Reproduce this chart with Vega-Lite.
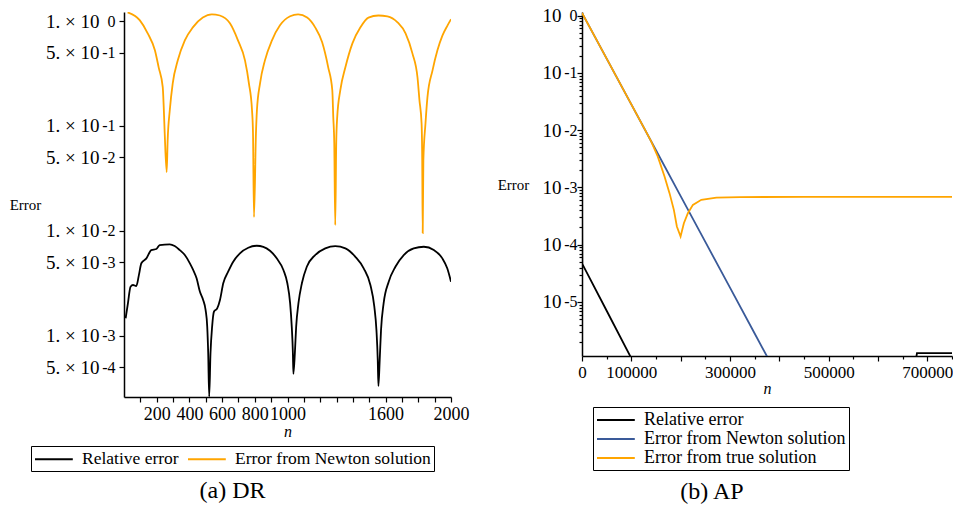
{
  "$schema": "https://vega.github.io/schema/vega-lite/v6.json",
  "background": "white",
  "padding": {"left": 9, "top": 6, "right": 0, "bottom": 0},
  "bounds": "flush",
  "spacing": 131,
  "config": {
    "view": {"stroke": null},
    "font": "Liberation Serif",
    "axis": {"labelFont": "Liberation Serif", "titleFont": "Liberation Serif", "labelColor": "black", "titleColor": "black", "domainColor": "black", "tickColor": "black", "grid": false, "labelOverlap": false, "labelFlush": false, "titleFontWeight": "normal", "domainWidth": 1.5, "tickWidth": 1.2},
    "legend": {"labelFont": "Liberation Serif", "labelColor": "black", "labelLimit": 0},
    "title": {"font": "Liberation Serif", "fontWeight": "normal", "color": "black"}
  },
  "datasets": {
    "dr": [
      {"n": 10, "err": 0.001465, "series": "Relative error"},
      {"n": 24, "err": 0.002035, "series": "Relative error"},
      {"n": 40, "err": 0.00293, "series": "Relative error"},
      {"n": 55, "err": 0.00304, "series": "Relative error"},
      {"n": 75, "err": 0.00297, "series": "Relative error"},
      {"n": 91, "err": 0.00378, "series": "Relative error"},
      {"n": 106, "err": 0.0049, "series": "Relative error"},
      {"n": 137, "err": 0.00546, "series": "Relative error"},
      {"n": 167, "err": 0.00655, "series": "Relative error"},
      {"n": 198, "err": 0.0067, "series": "Relative error"},
      {"n": 218, "err": 0.00731, "series": "Relative error"},
      {"n": 280, "err": 0.00742, "series": "Relative error"},
      {"n": 310, "err": 0.00715, "series": "Relative error"},
      {"n": 341, "err": 0.00655, "series": "Relative error"},
      {"n": 372, "err": 0.00587, "series": "Relative error"},
      {"n": 403, "err": 0.00489, "series": "Relative error"},
      {"n": 423, "err": 0.00423, "series": "Relative error"},
      {"n": 444, "err": 0.00352, "series": "Relative error"},
      {"n": 464, "err": 0.00263, "series": "Relative error"},
      {"n": 484, "err": 0.00219, "series": "Relative error"},
      {"n": 499, "err": 0.00176, "series": "Relative error"},
      {"n": 509, "err": 0.00122, "series": "Relative error"},
      {"n": 515, "err": 0.000679, "series": "Relative error"},
      {"n": 521, "err": 0.000262, "series": "Relative error"},
      {"n": 529, "err": 0.000679, "series": "Relative error"},
      {"n": 539, "err": 0.00122, "series": "Relative error"},
      {"n": 550, "err": 0.00169, "series": "Relative error"},
      {"n": 570, "err": 0.00182, "series": "Relative error"},
      {"n": 587, "err": 0.00219, "series": "Relative error"},
      {"n": 607, "err": 0.00316, "series": "Relative error"},
      {"n": 637, "err": 0.00407, "series": "Relative error"},
      {"n": 668, "err": 0.00507, "series": "Relative error"},
      {"n": 709, "err": 0.0061, "series": "Relative error"},
      {"n": 760, "err": 0.00689, "series": "Relative error"},
      {"n": 812, "err": 0.0072, "series": "Relative error"},
      {"n": 852, "err": 0.00704, "series": "Relative error"},
      {"n": 893, "err": 0.00645, "series": "Relative error"},
      {"n": 934, "err": 0.00546, "series": "Relative error"},
      {"n": 975, "err": 0.00423, "series": "Relative error"},
      {"n": 999, "err": 0.00316, "series": "Relative error"},
      {"n": 1016, "err": 0.00204, "series": "Relative error"},
      {"n": 1026, "err": 0.00122, "series": "Relative error"},
      {"n": 1033, "err": 0.000679, "series": "Relative error"},
      {"n": 1036, "err": 0.000432, "series": "Relative error"},
      {"n": 1045, "err": 0.000679, "series": "Relative error"},
      {"n": 1053, "err": 0.00122, "series": "Relative error"},
      {"n": 1067, "err": 0.00204, "series": "Relative error"},
      {"n": 1088, "err": 0.00316, "series": "Relative error"},
      {"n": 1118, "err": 0.00454, "series": "Relative error"},
      {"n": 1169, "err": 0.00587, "series": "Relative error"},
      {"n": 1231, "err": 0.0068, "series": "Relative error"},
      {"n": 1292, "err": 0.00715, "series": "Relative error"},
      {"n": 1354, "err": 0.0068, "series": "Relative error"},
      {"n": 1415, "err": 0.00565, "series": "Relative error"},
      {"n": 1466, "err": 0.00439, "series": "Relative error"},
      {"n": 1507, "err": 0.00304, "series": "Relative error"},
      {"n": 1531, "err": 0.00189, "series": "Relative error"},
      {"n": 1544, "err": 0.00113, "series": "Relative error"},
      {"n": 1552, "err": 0.000587, "series": "Relative error"},
      {"n": 1556, "err": 0.000332, "series": "Relative error"},
      {"n": 1564, "err": 0.000587, "series": "Relative error"},
      {"n": 1572, "err": 0.00113, "series": "Relative error"},
      {"n": 1588, "err": 0.00204, "series": "Relative error"},
      {"n": 1619, "err": 0.00327, "series": "Relative error"},
      {"n": 1660, "err": 0.00454, "series": "Relative error"},
      {"n": 1711, "err": 0.00587, "series": "Relative error"},
      {"n": 1772, "err": 0.0068, "series": "Relative error"},
      {"n": 1834, "err": 0.00704, "series": "Relative error"},
      {"n": 1895, "err": 0.00655, "series": "Relative error"},
      {"n": 1947, "err": 0.00546, "series": "Relative error"},
      {"n": 1977, "err": 0.00439, "series": "Relative error"},
      {"n": 2000, "err": 0.00327, "series": "Relative error"},
      {"n": 22, "err": 1.21, "series": "Error from Newton solution"},
      {"n": 96, "err": 1.02, "series": "Error from Newton solution"},
      {"n": 145, "err": 0.764, "series": "Error from Newton solution"},
      {"n": 189, "err": 0.526, "series": "Error from Newton solution"},
      {"n": 212, "err": 0.362, "series": "Error from Newton solution"},
      {"n": 237, "err": 0.234, "series": "Error from Newton solution"},
      {"n": 243, "err": 0.151, "series": "Error from Newton solution"},
      {"n": 249, "err": 0.0851, "series": "Error from Newton solution"},
      {"n": 261, "err": 0.0362, "series": "Error from Newton solution"},
      {"n": 267, "err": 0.0731, "series": "Error from Newton solution"},
      {"n": 280, "err": 0.141, "series": "Error from Newton solution"},
      {"n": 298, "err": 0.255, "series": "Error from Newton solution"},
      {"n": 329, "err": 0.422, "series": "Error from Newton solution"},
      {"n": 372, "err": 0.655, "series": "Error from Newton solution"},
      {"n": 421, "err": 0.871, "series": "Error from Newton solution"},
      {"n": 482, "err": 1.08, "series": "Error from Newton solution"},
      {"n": 537, "err": 1.16, "series": "Error from Newton solution"},
      {"n": 586, "err": 1.13, "series": "Error from Newton solution"},
      {"n": 648, "err": 0.951, "series": "Error from Newton solution"},
      {"n": 697, "err": 0.655, "series": "Error from Newton solution"},
      {"n": 740, "err": 0.422, "series": "Error from Newton solution"},
      {"n": 764, "err": 0.255, "series": "Error from Newton solution"},
      {"n": 783, "err": 0.141, "series": "Error from Newton solution"},
      {"n": 789, "err": 0.0851, "series": "Error from Newton solution"},
      {"n": 795, "err": 0.0135, "series": "Error from Newton solution"},
      {"n": 807, "err": 0.0851, "series": "Error from Newton solution"},
      {"n": 813, "err": 0.141, "series": "Error from Newton solution"},
      {"n": 832, "err": 0.255, "series": "Error from Newton solution"},
      {"n": 862, "err": 0.422, "series": "Error from Newton solution"},
      {"n": 905, "err": 0.655, "series": "Error from Newton solution"},
      {"n": 954, "err": 0.91, "series": "Error from Newton solution"},
      {"n": 1016, "err": 1.11, "series": "Error from Newton solution"},
      {"n": 1065, "err": 1.16, "series": "Error from Newton solution"},
      {"n": 1120, "err": 1.08, "series": "Error from Newton solution"},
      {"n": 1169, "err": 0.871, "series": "Error from Newton solution"},
      {"n": 1212, "err": 0.627, "series": "Error from Newton solution"},
      {"n": 1249, "err": 0.362, "series": "Error from Newton solution"},
      {"n": 1274, "err": 0.219, "series": "Error from Newton solution"},
      {"n": 1280, "err": 0.121, "series": "Error from Newton solution"},
      {"n": 1286, "err": 0.0684, "series": "Error from Newton solution"},
      {"n": 1292, "err": 0.0113, "series": "Error from Newton solution"},
      {"n": 1298, "err": 0.0684, "series": "Error from Newton solution"},
      {"n": 1304, "err": 0.121, "series": "Error from Newton solution"},
      {"n": 1323, "err": 0.219, "series": "Error from Newton solution"},
      {"n": 1354, "err": 0.362, "series": "Error from Newton solution"},
      {"n": 1397, "err": 0.613, "series": "Error from Newton solution"},
      {"n": 1446, "err": 0.871, "series": "Error from Newton solution"},
      {"n": 1495, "err": 1.08, "series": "Error from Newton solution"},
      {"n": 1556, "err": 1.13, "series": "Error from Newton solution"},
      {"n": 1611, "err": 1.11, "series": "Error from Newton solution"},
      {"n": 1673, "err": 0.972, "series": "Error from Newton solution"},
      {"n": 1722, "err": 0.764, "series": "Error from Newton solution"},
      {"n": 1764, "err": 0.492, "series": "Error from Newton solution"},
      {"n": 1795, "err": 0.291, "series": "Error from Newton solution"},
      {"n": 1807, "err": 0.176, "series": "Error from Newton solution"},
      {"n": 1820, "err": 0.106, "series": "Error from Newton solution"},
      {"n": 1824, "err": 0.0471, "series": "Error from Newton solution"},
      {"n": 1827, "err": 0.0095, "series": "Error from Newton solution"},
      {"n": 1831, "err": 0.0471, "series": "Error from Newton solution"},
      {"n": 1844, "err": 0.106, "series": "Error from Newton solution"},
      {"n": 1856, "err": 0.188, "series": "Error from Newton solution"},
      {"n": 1887, "err": 0.339, "series": "Error from Newton solution"},
      {"n": 1917, "err": 0.526, "series": "Error from Newton solution"},
      {"n": 1948, "err": 0.731, "series": "Error from Newton solution"},
      {"n": 1979, "err": 0.91, "series": "Error from Newton solution"},
      {"n": 2000, "err": 1.04, "series": "Error from Newton solution"}
    ],
    "ap": [
      {"n": 0, "err": 0.00145, "series": "Relative error", "seg": "a"},
      {"n": 500, "err": 0.0000464, "series": "Relative error", "seg": "a"},
      {"n": 50000, "err": 0.00000703, "series": "Relative error", "seg": "a"},
      {"n": 100000, "err": 0.00000104, "series": "Relative error", "seg": "a"},
      {"n": 677000, "err": 0.000001, "series": "Relative error", "seg": "b"},
      {"n": 679000, "err": 0.00000128, "series": "Relative error", "seg": "b"},
      {"n": 750000, "err": 0.00000128, "series": "Relative error", "seg": "b"},
      {"n": 0, "err": 1.12, "series": "Error from Newton solution", "seg": "a"},
      {"n": 50000, "err": 0.178, "series": "Error from Newton solution", "seg": "a"},
      {"n": 100000, "err": 0.0282, "series": "Error from Newton solution", "seg": "a"},
      {"n": 150000, "err": 0.00447, "series": "Error from Newton solution", "seg": "a"},
      {"n": 200000, "err": 0.000708, "series": "Error from Newton solution", "seg": "a"},
      {"n": 250000, "err": 0.000112, "series": "Error from Newton solution", "seg": "a"},
      {"n": 300000, "err": 0.0000178, "series": "Error from Newton solution", "seg": "a"},
      {"n": 350000, "err": 0.00000282, "series": "Error from Newton solution", "seg": "a"},
      {"n": 400000, "err": 0.000000447, "series": "Error from Newton solution", "seg": "a"},
      {"n": 0, "err": 1.12, "series": "Error from true solution", "seg": "a"},
      {"n": 50000, "err": 0.178, "series": "Error from true solution", "seg": "a"},
      {"n": 100000, "err": 0.0282, "series": "Error from true solution", "seg": "a"},
      {"n": 130000, "err": 0.00933, "series": "Error from true solution", "seg": "a"},
      {"n": 140200, "err": 0.00641, "series": "Error from true solution", "seg": "a"},
      {"n": 153700, "err": 0.00346, "series": "Error from true solution", "seg": "a"},
      {"n": 167300, "err": 0.00155, "series": "Error from true solution", "seg": "a"},
      {"n": 177400, "err": 0.000796, "series": "Error from true solution", "seg": "a"},
      {"n": 186200, "err": 0.000406, "series": "Error from true solution", "seg": "a"},
      {"n": 192300, "err": 0.000208, "series": "Error from true solution", "seg": "a"},
      {"n": 199800, "err": 0.000139, "series": "Error from true solution", "seg": "a"},
      {"n": 206500, "err": 0.000238, "series": "Error from true solution", "seg": "a"},
      {"n": 214600, "err": 0.000356, "series": "Error from true solution", "seg": "a"},
      {"n": 224800, "err": 0.000497, "series": "Error from true solution", "seg": "a"},
      {"n": 241900, "err": 0.000608, "series": "Error from true solution", "seg": "a"},
      {"n": 272400, "err": 0.000667, "series": "Error from true solution", "seg": "a"},
      {"n": 320000, "err": 0.00068, "series": "Error from true solution", "seg": "a"},
      {"n": 450000, "err": 0.000685, "series": "Error from true solution", "seg": "a"},
      {"n": 750000, "err": 0.000685, "series": "Error from true solution", "seg": "a"}
    ]
  },
  "hconcat": [
    {
      "width": 327,
      "height": 385,
      "data": {"name": "dr"},
      "title": {"text": "(a) DR", "orient": "bottom", "anchor": "middle", "frame": "group", "dx": -55, "offset": 7, "fontSize": 24, "baseline": "top"},
      "layer": [
        {
          "mark": {"type": "line", "strokeWidth": 1.8, "clip": true, "interpolate": "monotone"},
          "encoding": {
            "x": {"field": "n", "type": "quantitative", "scale": {"domain": [0, 2000], "nice": false, "zero": false},
              "axis": {"orient": "bottom", "values": [100, 200, 300, 400, 500, 600, 700, 800, 900, 1000, 1100, 1200, 1300, 1400, 1500, 1600, 1700, 1800, 1900, 2000],
                "labelExpr": "indexof([200,400,600,800,1000,1600,2000], datum.value) >= 0 ? '' + datum.value : ''",
                "labelFont": "Liberation Serif", "titleFont": "Liberation Serif",
                "tickSize": 5, "labelPadding": 3, "labelFontSize": 18, "title": "n", "titleFontStyle": "italic", "titleFontSize": 16, "titlePadding": 0}},
            "y": {"field": "err", "type": "quantitative", "scale": {"type": "log", "domain": [0.00026, 1.22], "nice": false},
              "axis": {"orient": "left", "values": [1, 0.5, 0.1, 0.05, 0.01, 0.005, 0.001, 0.0005],
                "labelExpr": "round(datum.value / pow(10, floor(log(datum.value) / LN10 + 1e-9))) + '. × 10'",
                "labelFont": "Liberation Serif", "titleFont": "Liberation Serif",
                "tickSize": 5, "labelPadding": 20, "labelFontSize": 19, "labelBaseline": "middle", "labelDy": 4,
                "title": "Error", "titleAngle": 0, "titleX": -99, "titleY": 192.5, "titleAlign": "center", "titleBaseline": "middle", "titleFontSize": 15}},
            "color": {"field": "series", "type": "nominal",
              "scale": {"domain": ["Relative error", "Error from Newton solution"], "range": ["#000000", "#FFA500"]},
              "legend": {"title": null, "orient": "none", "legendX": -93, "legendY": 434, "direction": "horizontal", "strokeColor": "black", "fillColor": "white", "padding": 3, "labelFontSize": 17.5, "labelLimit": 0, "symbolType": "M-1,0H3.2", "symbolSize": 324, "symbolStrokeWidth": 2, "labelOffset": 28, "columnPadding": 5}}
          }
        },
        {
          "transform": [{"filter": "false"}],
          "mark": {"type": "point", "opacity": 0},
          "encoding": {
            "y": {"field": "err", "type": "quantitative", "scale": {"type": "log", "domain": [0.00026, 1.22], "nice": false},
              "axis": {"orient": "left", "values": [1, 0.5, 0.1, 0.05, 0.01, 0.005, 0.001, 0.0005],
                "labelExpr": "'' + floor(log(datum.value) / LN10 + 1e-9)",
                "labelFont": "Liberation Serif",
                "ticks": false, "tickSize": 0, "domain": false, "labelAlign": "right", "labelPadding": 9, "labelFontSize": 16, "labelBaseline": "middle", "labelDy": -8, "title": null}}
          }
        }
      ],
      "resolve": {"axis": {"y": "independent"}}
    },
    {
      "width": 370,
      "height": 344,
      "data": {"name": "ap"},
      "title": {"text": "(b) AP", "orient": "bottom", "anchor": "middle", "frame": "group", "dx": -55, "offset": 9, "fontSize": 24, "baseline": "top"},
      "layer": [
        {
          "mark": {"type": "line", "strokeWidth": 1.8, "clip": true},
          "encoding": {
            "x": {"field": "n", "type": "quantitative", "scale": {"domain": [0, 750000], "nice": false, "zero": false},
              "axis": {"orient": "bottom", "values": [0, 100000, 200000, 300000, 400000, 500000, 600000, 700000],
                "labelExpr": "indexof([200000,400000,600000], datum.value) >= 0 ? '' : '' + datum.value",
                "labelFont": "Liberation Serif", "titleFont": "Liberation Serif",
                "tickSize": 5, "labelPadding": 3, "labelFontSize": 17, "title": "n", "titleFontStyle": "italic", "titleFontSize": 16, "titlePadding": 0}},
            "y": {"field": "err", "type": "quantitative", "scale": {"type": "log", "domain": [0.00000114, 1.16], "nice": false},
              "axis": {"orient": "left", "values": [1, 0.1, 0.01, 0.001, 0.0001, 0.00001],
                "labelExpr": "'10'",
                "labelFont": "Liberation Serif", "titleFont": "Liberation Serif",
                "tickSize": 5, "labelPadding": 16, "labelFontSize": 19, "labelBaseline": "middle", "labelDy": 4,
                "title": "Error", "titleAngle": 0, "titleX": -69, "titleY": 172, "titleAlign": "center", "titleBaseline": "middle", "titleFontSize": 15}},
            "color": {"field": "series", "type": "nominal",
              "scale": {"domain": ["Relative error", "Error from Newton solution", "Error from true solution"], "range": ["#000000", "#3A5A99", "#FFA500"]},
              "legend": {"title": null, "orient": "none", "legendX": 11, "legendY": 395, "direction": "vertical", "strokeColor": "black", "fillColor": "white", "padding": 3, "labelFontSize": 18, "labelLimit": 0, "symbolType": "M-1,0H3.2", "symbolSize": 324, "symbolStrokeWidth": 2, "labelOffset": 28, "rowPadding": 0}},
            "detail": {"field": "seg", "type": "nominal"}
          }
        },
        {
          "transform": [{"filter": "false"}],
          "mark": {"type": "point", "opacity": 0},
          "encoding": {
            "x": {"field": "n", "type": "quantitative", "scale": {"domain": [0, 750000], "nice": false, "zero": false},
              "axis": {"orient": "bottom", "values": [50000, 150000, 250000, 350000, 450000, 550000, 650000, 750000], "labels": false, "tickSize": 3, "domain": false, "title": null}},
            "y": {"field": "err", "type": "quantitative", "scale": {"type": "log", "domain": [0.00000114, 1.16], "nice": false},
              "axis": {"orient": "left", "values": [0.000002, 0.000003, 0.000004, 0.000005, 0.000006, 0.000007, 0.000008, 0.000009, 0.00002, 0.00003, 0.00004, 0.00005, 0.00006, 0.00007, 0.00008, 0.00009, 0.0002, 0.0003, 0.0004, 0.0005, 0.0006, 0.0007, 0.0008, 0.0009, 0.002, 0.003, 0.004, 0.005, 0.006, 0.007, 0.008, 0.009, 0.02, 0.03, 0.04, 0.05, 0.06, 0.07, 0.08, 0.09, 0.2, 0.3, 0.4, 0.5, 0.6, 0.7, 0.8, 0.9],
                "labels": false, "tickSize": 3, "domain": false, "title": null}}
          }
        },
        {
          "transform": [{"filter": "false"}],
          "mark": {"type": "point", "opacity": 0},
          "encoding": {
            "y": {"field": "err", "type": "quantitative", "scale": {"type": "log", "domain": [0.00000114, 1.16], "nice": false},
              "axis": {"orient": "left", "values": [1, 0.1, 0.01, 0.001, 0.0001, 0.00001],
                "labelExpr": "'' + round(log(datum.value) / LN10)",
                "labelFont": "Liberation Serif",
                "ticks": false, "tickSize": 0, "domain": false, "labelAlign": "right", "labelPadding": 5, "labelFontSize": 16, "labelBaseline": "middle", "labelDy": -8, "title": null}}
          }
        }
      ],
      "resolve": {"axis": {"x": "independent", "y": "independent"}}
    }
  ],
  "resolve": {"scale": {"color": "independent"}, "legend": {"color": "independent"}}
}
